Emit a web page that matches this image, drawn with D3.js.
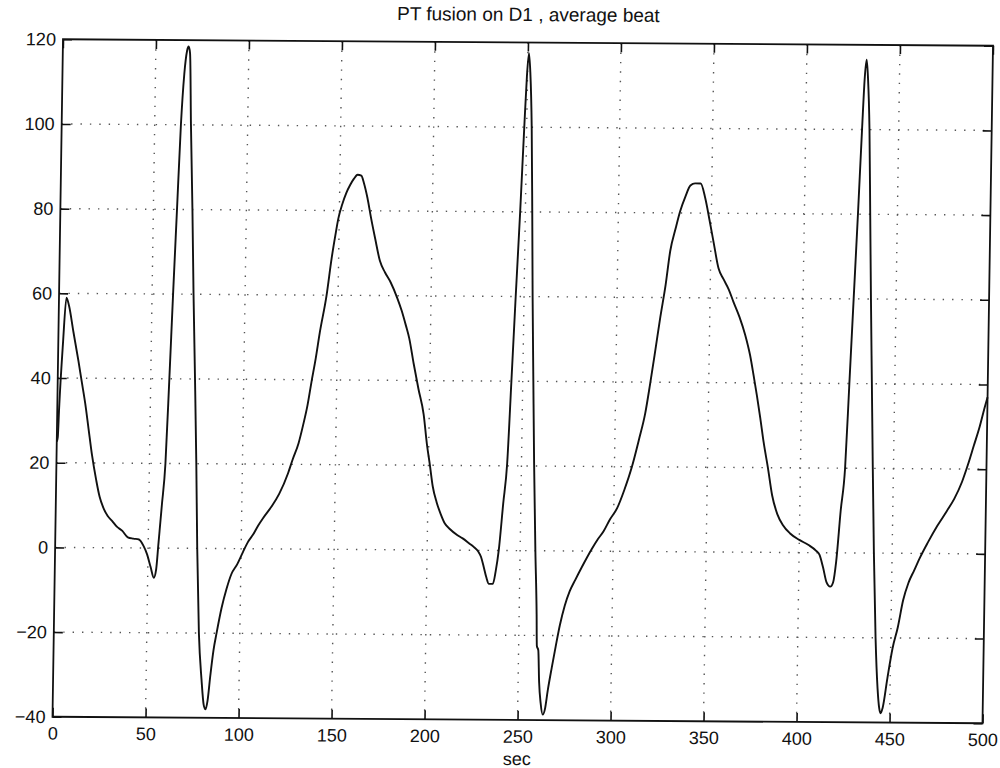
<!DOCTYPE html>
<html>
<head>
<meta charset="utf-8">
<script src="https://cdn.jsdelivr.net/npm/d3@7"></script>
<style>
body { margin: 0; background: #fff; }
text { font-family: "Liberation Sans", Arial, sans-serif; fill: #111; }
</style>
</head>
<body>
<div id="chart"></div>
<script>
// average beat
const sec = [0, 0.5, 1, 2.5, 4, 5.5, 8, 11, 13, 15, 17, 19, 21.5, 23.5, 25.5, 28, 30.5, 33, 36, 39, 42, 45, 47.5, 49.5, 51.5, 53.3, 54.5, 55.5, 57, 58.6, 60, 61.3, 62.7, 64.1, 65.5, 66.8, 67.6, 68.4, 69.5, 71, 72.3, 73.8, 75.2, 76.4, 78, 79.8, 81.2, 82.2, 83.2, 84.5, 86, 87.5, 90, 92.5, 95, 98, 101, 103.5, 106.4, 109, 111.6, 116, 120, 124.6, 127, 130, 132.2, 134.5, 136.4, 138.5, 140.5, 143.8, 146.2, 148, 149.5, 151.5, 153.6, 155.5, 157.5, 159.5, 161.5, 163, 165, 167, 169.5, 172.2, 175, 178.2, 181.8, 184.3, 186.7, 188.6, 191.2, 194, 197, 199, 200.8, 202.5, 204.7, 207, 209.4, 212, 216, 219, 222.6, 225, 227.5, 229, 230.5, 232, 233.5, 235.6, 237, 238.5, 240.5, 242.3, 243.9, 245.5, 247.2, 248.7, 249.7, 250.6, 251.5, 252.7, 253.7, 254.6, 255.7, 256.8, 258.2, 259.4, 259.8, 260.6, 261.3, 262.3, 263.5, 264.6, 266, 268, 269.9, 272, 274.4, 277, 279.9, 283.4, 286, 288.5, 291.5, 294.7, 298, 301.8, 305.5, 309.4, 313, 316.1, 318.5, 321, 323.4, 326, 328.2, 331, 333.2, 336, 338.5, 341, 344, 346.6, 349, 351.5, 354.3, 357, 360, 362.6, 366, 369.2, 372, 374, 376, 378, 380, 382.5, 385, 388, 391, 395, 400, 405, 409, 411, 413, 415, 417, 418.5, 420, 422, 424, 425.6, 427.2, 428.8, 430.3, 431.3, 432.2, 433.1, 434.3, 435.4, 436.5, 437.7, 438.9, 440.2, 441.8, 443.3, 444.3, 445.1, 446.2, 448.5, 451, 453.7, 456.3, 459, 462, 465, 469, 474, 479, 483, 487, 490, 493, 496, 498.5, 500];
const amp = [25, 26, 33, 48, 59, 57, 51, 44, 39, 34, 28, 22, 16, 12, 9.5, 7.5, 6.3, 5, 4, 2.5, 2.2, 2, 0.5, -1.5, -4.5, -7, -5, 1, 10, 20, 40, 60, 80, 100, 112, 117.5, 118.5, 117, 100, 80, 60, 40, 20, 0, -20, -31, -37, -38, -36, -30, -24, -20, -14, -9.5, -6, -3.7, -0.8, 1.5, 3.4, 5.5, 7.3, 10, 13, 17.9, 21.2, 25, 29.1, 34, 39.4, 45, 51.2, 59.9, 68.6, 74, 78.1, 81.5, 84.2, 86, 87.5, 88.5, 88.3, 86.5, 83, 78.5, 73.4, 68.2, 65.5, 63.1, 59.5, 56.5, 53, 50, 44, 38, 32, 25, 20, 15, 11.3, 8.5, 6.2, 5, 3.6, 2.8, 1.6, 0.8, -0.3, -1.5, -3.8, -6.3, -7.9, -7.9, -5, 0, 11, 20.5, 40, 60, 80, 100, 112, 117.5, 113, 100, 80, 60, 40, 20.5, 0, -15, -22.5, -23.5, -31, -36, -38.7, -37.5, -33, -27.5, -22.6, -17.5, -13, -9.5, -6.8, -3.7, -1.5, 0.5, 2.7, 4.7, 7.5, 10.2, 14.5, 20, 26.5, 32.6, 39.6, 47.5, 55.3, 63, 71, 76.5, 80.4, 84, 86.5, 87, 87, 83.5, 78.5, 73, 67, 64.5, 62, 59.1, 55.5, 51.3, 46.5, 41.9, 37, 31.7, 26, 20, 13.5, 9, 6.5, 4.5, 3, 1.8, 0.5, -0.5, -3.5, -7, -8, -7, -2, 10, 20, 40, 60, 80, 100, 112, 116.5, 112, 100, 80, 60, 40, 20, 0, -20, -32, -36.5, -37.8, -36.5, -29.5, -22.5, -17.4, -11.1, -7, -4, -1, 2.5, 6.5, 10, 13, 17, 21, 25.5, 30, 34.5, 37];

const xTicks = [0, 50, 100, 150, 200, 250, 300, 350, 400, 450, 500];
const yTicks = [-40, -20, 0, 20, 40, 60, 80, 100, 120];
const chartTitle = "PT fusion on D1 , average beat";
const xLabel = "sec";

var W = 1000, H = 768;
var margin = {top: 42.5, right: 12.25, bottom: 48, left: 57.75},
    width = W - margin.left - margin.right,
    height = H - margin.top - margin.bottom;

var svg = d3.select("#chart").append("svg")
    .attr("width", W)
    .attr("height", H);

// the scanned page is slightly skewed
var cx = margin.left + width / 2, cy = margin.top + height / 2;
var page = svg.append("g")
    .attr("transform", "translate(" + cx + "," + cy + ") matrix(1,0.007,-0.0155,1,0,0) translate(" + (-cx) + "," + (-cy) + ")");

var g = page.append("g")
    .attr("transform", "translate(" + margin.left + "," + margin.top + ")");

var xScale = d3.scaleLinear().domain([0, 500]).range([0, width]);
var yScale = d3.scaleLinear().domain([-40, 120]).range([height, 0]);

// dotted grid
g.append("g").selectAll("line")
    .data(xTicks.slice(1, -1))
    .join("line")
    .attr("x1", d => xScale(d)).attr("x2", d => xScale(d))
    .attr("y1", 0).attr("y2", height)
    .attr("stroke", "#555")
    .attr("stroke-width", 1.4)
    .attr("stroke-dasharray", "1.4,8");

g.append("g").selectAll("line")
    .data(yTicks.slice(1, -1))
    .join("line")
    .attr("y1", d => yScale(d)).attr("y2", d => yScale(d))
    .attr("x1", 0).attr("x2", width)
    .attr("stroke", "#555")
    .attr("stroke-width", 1.4)
    .attr("stroke-dasharray", "1.4,8");

// axes, MATLAB style inward ticks on all sides
function styleAxis(sel) {
    sel.select(".domain").remove();
    sel.selectAll(".tick line").attr("stroke", "#111").attr("stroke-width", 1.6);
    sel.selectAll("text").attr("font-size", "18px").attr("fill", "#111");
}

g.append("g")
    .attr("transform", "translate(0," + height + ")")
    .call(d3.axisBottom(xScale).tickValues(xTicks).tickSizeInner(-9).tickSizeOuter(0).tickPadding(10))
    .call(styleAxis);

g.append("g")
    .call(d3.axisTop(xScale).tickValues(xTicks).tickSizeInner(-9).tickSizeOuter(0).tickFormat(""))
    .call(styleAxis);

g.append("g")
    .call(d3.axisLeft(yScale).tickValues(yTicks).tickSizeInner(-9).tickSizeOuter(0).tickPadding(7)
        .tickFormat(d => d < 0 ? "\u2212" + Math.abs(d) : d))
    .call(styleAxis);

g.append("g")
    .attr("transform", "translate(" + width + ",0)")
    .call(d3.axisRight(yScale).tickValues(yTicks).tickSizeInner(-9).tickSizeOuter(0).tickFormat(""))
    .call(styleAxis);

// frame
g.append("rect")
    .attr("width", width)
    .attr("height", height)
    .attr("fill", "none")
    .attr("stroke", "#111")
    .attr("stroke-width", 1.8);

// the beat
var line = d3.line()
    .x((d, i) => xScale(sec[i]))
    .y(d => yScale(d))
    .curve(d3.curveMonotoneX);

g.append("path")
    .datum(amp)
    .attr("d", line)
    .attr("fill", "none")
    .attr("stroke", "#111")
    .attr("stroke-width", 1.9)
    .attr("stroke-linejoin", "round");

// labels
page.append("text")
    .attr("x", cx)
    .attr("y", 21)
    .attr("text-anchor", "middle")
    .attr("font-size", "19px")
    .text(chartTitle);

page.append("text")
    .attr("x", cx)
    .attr("y", 765)
    .attr("text-anchor", "middle")
    .attr("font-size", "18px")
    .text(xLabel);
</script>
</body>
</html>
